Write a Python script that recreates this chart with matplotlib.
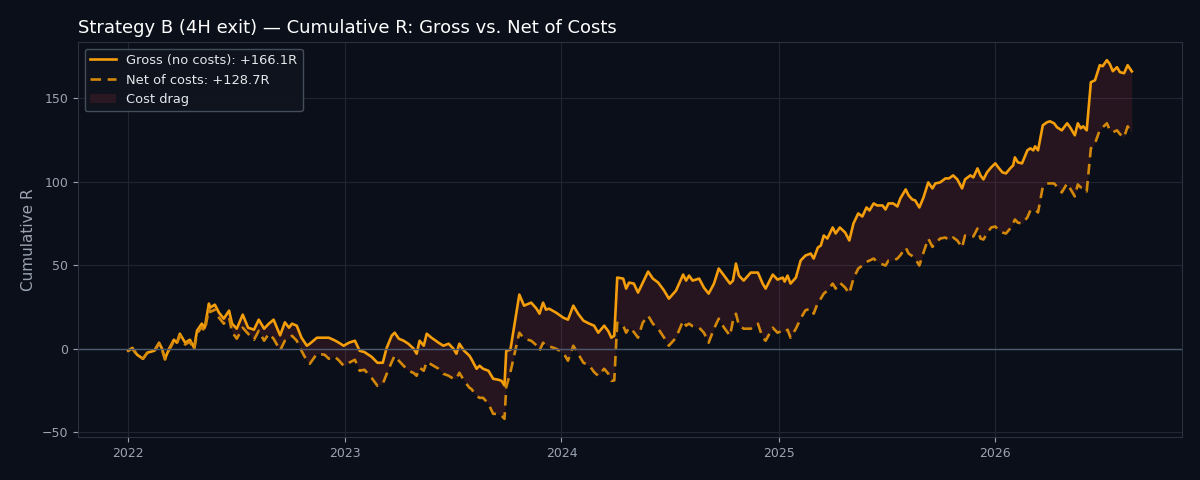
import numpy as np
import pandas as pd
import matplotlib
matplotlib.use("Agg")
import matplotlib.pyplot as plt

# days since 2022-01-01
day = [0, 7, 15, 25, 32, 44, 52, 57, 62, 69, 77, 82, 87, 96, 104, 111, 116, 124, 129, 136,
       138, 146, 153, 161, 170, 175, 183, 193, 202, 212, 220, 229, 237, 245, 256, 264, 271, 276, 284, 292,
       301, 306, 318, 331, 338, 348, 355, 363, 372, 382, 390, 398, 410, 420, 429, 435, 444, 449, 456, 464,
       472, 481, 486, 491, 498, 503, 511, 523, 531, 540, 548, 553, 558, 566, 575, 578, 587, 592, 598, 607,
       615, 624, 629, 634, 637, 644, 659, 667, 679, 688, 693, 699, 704, 709, 721, 733, 741, 750, 758, 767,
       777, 785, 792, 802, 809, 814, 819, 824, 834, 839, 844, 852, 859, 867, 876, 884, 893, 903, 911, 923,
       935, 940, 945, 951, 962, 970, 978, 987, 995, 1004, 1014, 1019, 1024, 1029, 1037, 1049, 1061, 1069, 1074, 1086,
       1094, 1103, 1106, 1111, 1116, 1125, 1133, 1141, 1150, 1155, 1162, 1167, 1172, 1178, 1187, 1192, 1199, 1208, 1215, 1222,
       1230, 1237, 1244, 1249, 1256, 1262, 1271, 1276, 1281, 1289, 1296, 1301, 1310, 1315, 1321, 1326, 1333, 1340, 1348, 1355,
       1360, 1368, 1377, 1383, 1390, 1397, 1405, 1410, 1419, 1424, 1431, 1436, 1441, 1447, 1454, 1461, 1466, 1473, 1479, 1486,
       1491, 1494, 1499, 1506, 1515, 1520, 1525, 1528, 1533, 1541, 1548, 1553, 1560, 1565, 1573, 1582, 1587, 1595, 1600, 1605,
       1609, 1615, 1622, 1629, 1637, 1642, 1649, 1654, 1659, 1666, 1671, 1678, 1684, 1691]

gross = [-1.2, 0.5, -3.6, -6.0, -2.4, -1.2, 3.6, 0.0, -6.0, 0.0, 5.4, 3.6, 9.0, 3.6, 5.4, 0.6, 10.8, 15.0, 12.6, 27.0,
         24.6, 26.4, 21.6, 18.0, 22.8, 15.0, 12.0, 20.4, 12.6, 11.4, 17.4, 12.0, 15.0, 17.4, 8.0, 15.8, 12.6, 15.0, 13.8, 6.6,
         1.8, 3.0, 6.6, 6.6, 6.6, 5.0, 3.6, 1.8, 3.6, 4.8, -1.2, -2.0, -4.8, -8.4, -8.4, 0.0, 7.8, 9.6, 6.0, 4.8,
         3.0, 0.0, -3.0, 4.8, 1.8, 9.0, 6.6, 3.6, 1.8, 3.0, 0.0, -3.0, 3.0, -1.2, -4.2, -6.0, -12.0, -10.2, -12.0, -13.2,
         -18.0, -18.6, -19.2, -22.0, -1.2, -0.6, 32.4, 25.8, 27.6, 24.0, 21.0, 27.6, 23.4, 24.0, 21.6, 18.6, 17.4, 25.8, 21.0, 16.8,
         15.0, 13.8, 9.6, 13.8, 10.5, 6.6, 7.8, 42.6, 42.0, 36.0, 39.6, 39.0, 33.6, 39.6, 46.2, 42.0, 39.6, 34.8, 30.0, 34.8,
         44.4, 40.8, 43.8, 40.8, 42.0, 36.6, 33.0, 39.0, 48.0, 43.8, 39.0, 40.8, 51.0, 43.8, 40.8, 45.6, 45.6, 39.0, 36.0, 44.4,
         41.4, 42.6, 40.2, 43.8, 39.0, 42.6, 52.8, 55.8, 57.0, 54.0, 60.6, 61.8, 67.8, 66.0, 72.6, 69.0, 72.6, 69.6, 64.8, 75.0,
         81.0, 79.2, 84.6, 82.8, 87.0, 85.8, 85.8, 83.4, 87.0, 87.0, 85.2, 90.0, 95.4, 91.8, 89.4, 88.8, 84.6, 90.6, 99.6, 96.0,
         99.0, 99.6, 102.0, 102.0, 103.8, 101.4, 96.0, 101.4, 103.8, 102.6, 108.0, 103.8, 101.4, 105.6, 108.6, 111.0, 108.6, 105.6, 105.0, 108.0,
         109.8, 114.6, 111.6, 111.0, 118.8, 120.0, 118.8, 121.2, 118.8, 133.8, 135.6, 136.2, 135.0, 132.6, 130.8, 135.0, 132.6, 127.8, 135.0, 132.0,
         133.2, 130.8, 159.6, 160.8, 169.8, 169.2, 172.8, 170.4, 166.2, 168.6, 165.6, 165.0, 169.8, 166.1]

net = [-1.2, 0.0, -3.8, -6.0, -2.6, -1.5, 3.0, -0.5, -6.5, -0.8, 4.5, 2.8, 8.0, 2.5, 4.2, -0.8, 9.2, 13.0, 10.5, 24.0,
       22.0, 23.4, 18.6, 15.0, 18.6, 10.0, 6.0, 12.6, 9.0, 5.4, 10.8, 4.8, 9.0, 6.0, -1.0, 4.8, 6.0, 7.8, 4.8, -1.2,
       -7.2, -9.0, -3.0, -3.6, -6.0, -4.8, -7.0, -10.2, -8.4, -6.6, -13.2, -12.6, -17.4, -22.2, -21.0, -15.6, -8.0, -4.2, -7.2, -10.2,
       -13.2, -14.5, -16.2, -11.4, -13.2, -7.8, -9.5, -12.0, -15.0, -16.2, -18.0, -18.0, -14.4, -19.2, -23.4, -24.0, -28.2, -29.4, -29.4, -33.0,
       -39.0, -39.0, -40.0, -42.0, -23.0, -14.0, 9.6, 6.0, 4.8, 2.0, -1.2, 3.6, 1.8, 1.5, 0.0, -2.4, -7.2, 1.8, -3.0, -8.4,
       -10.0, -14.0, -16.2, -12.0, -15.0, -19.2, -19.0, 15.6, 13.8, 9.6, 12.6, 10.0, 6.6, 15.6, 19.8, 15.0, 12.0, 6.6, 1.8, 6.6,
       16.8, 13.8, 15.0, 13.5, 12.6, 9.6, 3.6, 12.0, 18.0, 12.6, 7.8, 16.8, 21.0, 14.0, 12.0, 12.0, 15.0, 6.6, 4.8, 12.6,
       9.6, 10.8, 10.0, 11.4, 6.6, 12.0, 18.0, 23.0, 24.0, 21.0, 27.6, 30.0, 33.0, 34.8, 39.0, 36.0, 39.6, 36.6, 33.0, 42.0,
       48.0, 49.8, 52.0, 52.8, 54.0, 52.0, 50.5, 49.8, 52.8, 52.8, 54.0, 56.0, 60.6, 57.0, 55.5, 54.0, 49.8, 57.6, 66.0, 61.0,
       63.0, 66.0, 66.6, 64.8, 66.6, 64.8, 60.6, 67.8, 67.8, 67.2, 72.0, 66.0, 65.4, 69.0, 72.6, 73.2, 71.0, 69.6, 69.0, 72.0,
       75.0, 77.4, 75.5, 75.0, 78.6, 82.8, 83.4, 83.4, 81.6, 97.0, 99.0, 99.0, 99.0, 97.0, 93.6, 99.0, 96.0, 91.2, 98.4, 96.6,
       96.6, 94.2, 120.0, 123.0, 131.0, 132.6, 135.0, 130.8, 129.6, 130.8, 128.5, 126.6, 133.2, 128.7]

dates = pd.Timestamp("2022-01-01") + pd.to_timedelta(day, unit="D")
gross = np.array(gross)
net = np.array(net)

bg = "#0b0f19"
orange = "#f59e0b"
muted = "#9aa3b2"

fig, ax = plt.subplots(figsize=(12, 4.8), dpi=100)
fig.patch.set_facecolor(bg)
ax.set_facecolor(bg)
plt.subplots_adjust(left=0.065, right=0.985, top=0.912, bottom=0.09)

ax.fill_between(dates, net, gross, color="#ef4444", alpha=0.12, linewidth=0, label="Cost drag")
ax.plot(dates, gross, color=orange, linewidth=1.9, label=f"Gross (no costs): +{gross[-1]:.1f}R")
ax.plot(dates, net, color="#d4880a", linewidth=1.9, linestyle=(0, (4, 2.5)),
        label=f"Net of costs: +{net[-1]:.1f}R")
ax.axhline(0, color="#4b5a6e", linewidth=1.0)

ax.grid(True, color="#1e2533", linewidth=0.8)
ax.set_axisbelow(True)
for s in ax.spines.values():
    s.set_color("#2a3140")
ax.tick_params(colors=muted, labelsize=9)
ax.set_ylabel("Cumulative R", color=muted, fontsize=11)
ax.set_title("Strategy B (4H exit) — Cumulative R: Gross vs. Net of Costs", loc="left",
             color="white", fontsize=13, pad=7)

handles, labels = ax.get_legend_handles_labels()
order = [1, 2, 0]
leg = ax.legend([handles[i] for i in order], [labels[i] for i in order], loc="upper left",
                fontsize=9.4, facecolor="#0f141f", edgecolor="#4b5563", framealpha=0.9)
leg.legend_handles[2].set_edgecolor("#7f1d1d")
for t in leg.get_texts():
    t.set_color("#e5e7eb")

fig.savefig("out.png", facecolor=bg)
